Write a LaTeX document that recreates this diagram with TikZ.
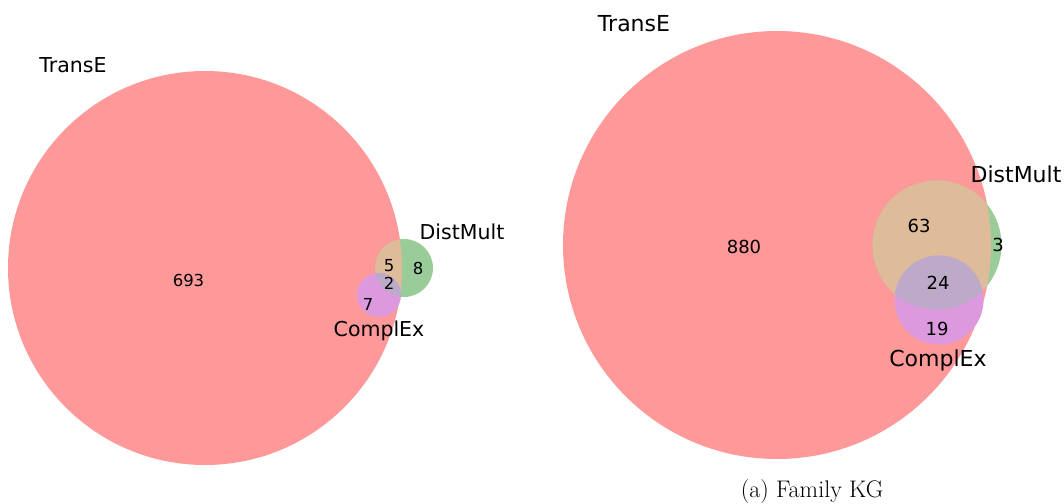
\documentclass[tikz,border=0pt]{standalone}
\usepackage{fontspec}
\setsansfont{DejaVu Sans}
\usepackage{tikz}
\usetikzlibrary{positioning}
\definecolor{vennred}{HTML}{FF9999}
\definecolor{venngreen}{HTML}{99CC99}
\definecolor{vennorange}{HTML}{DEBB99}
\definecolor{vennviolet}{HTML}{DD99DD}
\definecolor{venncore}{HTML}{BCAAC8}

\begin{document}
\begin{tikzpicture}[
    x=1pt, y=-1pt,
    setlabel/.style={font=\sffamily\fontsize{20.5}{24}\selectfont, inner sep=0pt, anchor=base},
    count/.style={font=\sffamily\fontsize{16.5}{20}\selectfont, inner sep=0pt, anchor=base},
    bigsetlabel/.style={setlabel, font=\sffamily\fontsize{22}{26}\selectfont},
    bigcount/.style={count, font=\sffamily\fontsize{18}{22}\selectfont},
]
\useasboundingbox (0,0) rectangle (1064,503);

% Left diagram: circles
\fill[vennred] (205,268) circle[radius=197pt];
\fill[venngreen] (404,268) circle[radius=29pt];
\begin{scope}
    \clip (205,268) circle[radius=197pt];
    \fill[vennorange] (404,268) circle[radius=29pt];
\end{scope}
\fill[vennviolet] (379,295) circle[radius=22pt];
\begin{scope}
    \clip (404,268) circle[radius=29pt];
    \fill[venncore] (379,295) circle[radius=22pt];
\end{scope}

% Left diagram: labels
\node[setlabel] (ltranse) at (73,72) {TransE};
\node[setlabel] (ldistmult) at (462,239) {DistMult};
\node[setlabel] (lcomplex) at (379,336) {ComplEx};
\node[count] (lonly) at (188.5,286) {693};
\node[count] (lrg) at (389,271) {5};
\node[count] (lg) at (418,274) {8};
\node[count] (lall) at (389,289) {2};
\node[count] (lrv) at (368,310) {7};

% Right diagram: circles
\fill[vennred] (777,245) circle[radius=214pt];
\fill[venngreen] (937,245) circle[radius=64.5pt];
\begin{scope}
    \clip (777,245) circle[radius=214pt];
    \fill[vennorange] (937,245) circle[radius=64.5pt];
\end{scope}
\fill[vennviolet] (939,300) circle[radius=44.5pt];
\begin{scope}
    \clip (937,245) circle[radius=64.5pt];
    \fill[venncore] (939,300) circle[radius=44.5pt];
\end{scope}

% Right diagram: labels
\node[bigsetlabel] (rtranse) at (634,32) {TransE};
\node[bigsetlabel] (rdistmult) at (1016,182) {DistMult};
\node[bigsetlabel] (rcomplex) at (938,366) {ComplEx};
\node[bigcount] (ronly) at (744,253) {880};
\node[bigcount] (rrg) at (919,232) {63};
\node[bigcount] (rg) at (998,251) {3};
\node[bigcount] (rall) at (938,289) {24};
\node[bigcount] (rrv) at (937,335) {19};

% Caption
\node[font=\fontsize{24}{28}\selectfont, inner sep=0pt, anchor=base] (caption) at (812,497) {(a) Family KG};

\end{tikzpicture}
\end{document}
